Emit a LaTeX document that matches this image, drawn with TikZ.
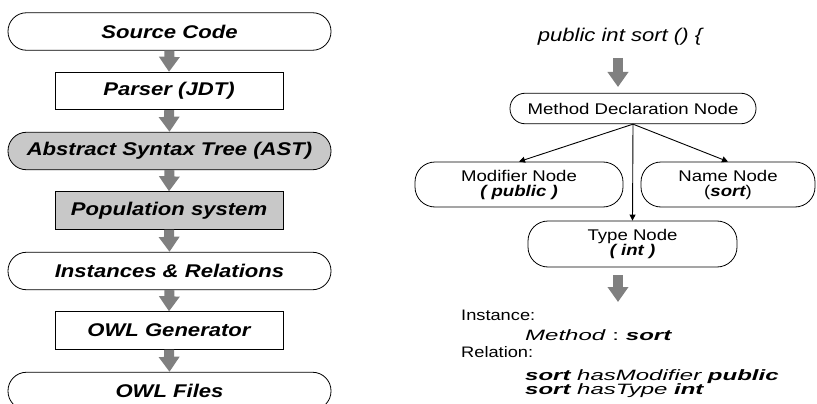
\documentclass[tikz,border=0pt]{standalone}
\usepackage{fontspec}
\usetikzlibrary{arrows.meta}
\newfontfamily\af[FakeStretch=1.2]{Liberation Sans}
\newfontfamily\wf[FakeStretch=1.6]{Liberation Sans}
\definecolor{boxgray}{HTML}{C8C8C8}
\definecolor{arrgray}{HTML}{808080}
\tikzset{
  stad/.style={draw, line width=0.8pt, rectangle, rounded corners=18.5pt, minimum width=323pt, minimum height=37.5pt, inner sep=0pt, font=\af\fontsize{18.4}{20}\selectfont\bfseries\itshape},
  rbox/.style={draw, line width=0.8pt, rectangle, minimum width=228pt, minimum height=37.5pt, inner sep=0pt, font=\af\fontsize{18.4}{20}\selectfont\bfseries\itshape},
  grayfill/.style={fill=boxgray},
  bigarrow/.style={draw=arrgray, line width=10pt, -{Triangle[width=20pt,length=15pt]}, arrgray},
  tnode/.style={draw, line width=0.8pt, rectangle, rounded corners=15pt, inner sep=0pt, align=center, font=\af\fontsize{15.5}{15}\selectfont},
  thin/.style={draw, line width=0.9pt, -{Triangle[width=6pt,length=6pt]}},
  txt/.style={anchor=west, inner sep=0pt, font=\af\fontsize{15.2}{17}\selectfont},
  wtxt/.style={anchor=west, inner sep=0pt, font=\wf\fontsize{15}{17}\selectfont}
}
\begin{document}
\begin{tikzpicture}[x=1pt,y=-1pt]
\useasboundingbox (0,0) rectangle (817,404);
% left column
\node[stad] (src) at (169.5,31.5) {Source Code};
\node[rbox] (parser) at (169,91) {Parser (JDT)};
\node[stad,grayfill] (ast) at (169.5,151) {Abstract Syntax Tree (AST)};
\node[rbox,grayfill] (pop) at (169,210.5) {Population system};
\node[stad] (inst) at (169.5,271) {Instances \& Relations};
\node[rbox] (owlg) at (169,330.5) {OWL Generator};
\node[stad] (owlf) at (169.5,391) {OWL Files};
\draw[bigarrow] (src.south) -- (parser.north);
\draw[bigarrow] (parser.south) -- (ast.north);
\draw[bigarrow] (ast.south) -- (pop.north);
\draw[bigarrow] (pop.south) -- (inst.north);
\draw[bigarrow] (inst.south) -- (owlg.north);
\draw[bigarrow] (owlg.south) -- (owlf.north);
% right side
\node[inner sep=0pt, font=\af\fontsize{18.4}{20}\selectfont\itshape] (code) at (620,37) {public int sort () \{};
\coordinate (a1s) at (618,58);
\coordinate (a1e) at (618,87);
\draw[bigarrow] (a1s) -- (a1e);
\node[tnode, minimum width=246pt, minimum height=30.5pt] (md) at (633,108.5) {Method Declaration Node};
\node[tnode, minimum width=208pt, minimum height=45pt, rounded corners=20pt] (mod) at (519,184.5) {Modifier Node\\{\bfseries\itshape ( public )}};
\node[tnode, minimum width=174pt, minimum height=45pt, rounded corners=20pt] (name) at (728,184.5) {Name Node\\({\bfseries\itshape sort})};
\node[tnode, minimum width=209pt, minimum height=46pt, rounded corners=20pt] (type) at (632.5,244) {Type Node\\{\bfseries\itshape ( int )}};
\draw[thin] (md.south) -- (mod.north);
\draw[thin] (md.south) -- (name.north);
\draw[thin] (md.south) -- (type.north);
\coordinate (a2s) at (618,275);
\coordinate (a2e) at (618,302);
\draw[bigarrow] (a2s) -- (a2e);
\node[txt] (linst) at (461,315) {Instance:};
\node[wtxt] (lmeth) at (525,335) {{\itshape Method}\hspace{7pt}:\hspace{7pt}{\bfseries\itshape sort}};
\node[txt] (lrel) at (461,352) {Relation:};
\node[wtxt] (lr1) at (525,377) {{\bfseries\itshape sort} {\itshape hasModifier} {\bfseries\itshape public}};
\node[wtxt] (lr2) at (525,390.5) {{\bfseries\itshape sort} {\itshape hasType} {\bfseries\itshape int}};
\end{tikzpicture}
\end{document}
